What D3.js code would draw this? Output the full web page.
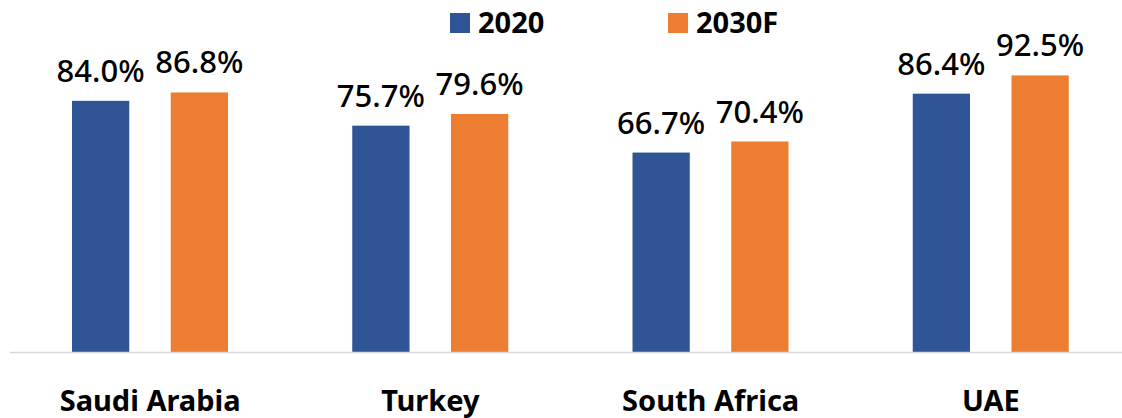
<!DOCTYPE html>
<html>
<head>
<meta charset="utf-8">
<script src="https://cdn.jsdelivr.net/npm/d3@7"></script>
<style>
  body { margin: 0; background: #fff; }
  text { font-family: "Noto Sans", "Open Sans", sans-serif; fill: #000; }
</style>
</head>
<body>
<div id="chart"></div>
<script>
// Chart data
const categories = ["Saudi Arabia", "Turkey", "South Africa", "UAE"];
const seriesNames = ["2020", "2030F"];
const values2020 = [84.0, 75.7, 66.7, 86.4];
const values2030 = [86.8, 79.6, 70.4, 92.5];
const colors = ["#2F5597", "#ED7D31"];

const svgWidth = 1122;
const svgHeight = 418;

const svg = d3.select("#chart")
    .append("svg")
    .attr("width", svgWidth)
    .attr("height", svgHeight);

// Scales
const xScale = d3.scaleBand()
    .domain(categories)
    .range([10, 1131]);

const xInner = d3.scaleBand()
    .domain(seriesNames)
    .range([62, 218])
    .paddingInner(0.42);

const yScale = d3.scaleLinear()
    .domain([0, 100])
    .range([352, 53]);

const rows = categories.map((c, i) => ({
    category: c,
    values: [
        { key: seriesNames[0], value: values2020[i], color: colors[0] },
        { key: seriesNames[1], value: values2030[i], color: colors[1] }
    ]
}));

const groups = svg.selectAll(".group")
    .data(rows)
    .enter()
    .append("g")
    .attr("class", "group")
    .attr("transform", d => `translate(${xScale(d.category)}, 0)`);

groups.selectAll("rect")
    .data(d => d.values)
    .enter()
    .append("rect")
    .attr("x", d => xInner(d.key))
    .attr("y", d => yScale(d.value))
    .attr("width", xInner.bandwidth())
    .attr("height", d => yScale(0) - yScale(d.value))
    .attr("fill", d => d.color);

// Data labels
groups.selectAll(".label")
    .data(d => d.values)
    .enter()
    .append("text")
    .attr("class", "label")
    .attr("x", d => xInner(d.key) + xInner.bandwidth() / 2)
    .attr("y", d => yScale(d.value) - 19)
    .attr("text-anchor", "middle")
    .style("font-size", "31px")
    .style("font-weight", "500")
    .text(d => d.value.toFixed(1) + "%");

// Baseline
svg.append("line")
    .attr("x1", 10)
    .attr("x2", svgWidth)
    .attr("y1", yScale(0) + 0.5)
    .attr("y2", yScale(0) + 0.5)
    .attr("stroke", "#d9d9d9")
    .attr("stroke-width", 1.5);

// Category axis labels
const xAxis = svg.append("g")
    .attr("transform", `translate(0, ${yScale(0)})`)
    .call(d3.axisBottom(xScale).tickSize(0).tickPadding(0));
xAxis.select(".domain").remove();
xAxis.selectAll("text")
    .attr("dy", null)
    .attr("y", 59)
    .attr("fill", "#000")
    .style("font-size", "29px")
    .style("font-weight", "bold")
    .style("font-family", "'Noto Sans', 'Open Sans', sans-serif");

// Legend
const legendX = [450, 668];
const legend = svg.selectAll(".legend")
    .data(seriesNames)
    .enter()
    .append("g")
    .attr("class", "legend")
    .attr("transform", (d, i) => `translate(${legendX[i]}, 0)`);

legend.append("rect")
    .attr("x", 0)
    .attr("y", 13)
    .attr("width", 20)
    .attr("height", 20)
    .attr("fill", (d, i) => colors[i]);

legend.append("text")
    .attr("x", 28)
    .attr("y", 33)
    .style("font-size", "29px")
    .style("font-weight", "bold")
    .text(d => d);
</script>
</body>
</html>
